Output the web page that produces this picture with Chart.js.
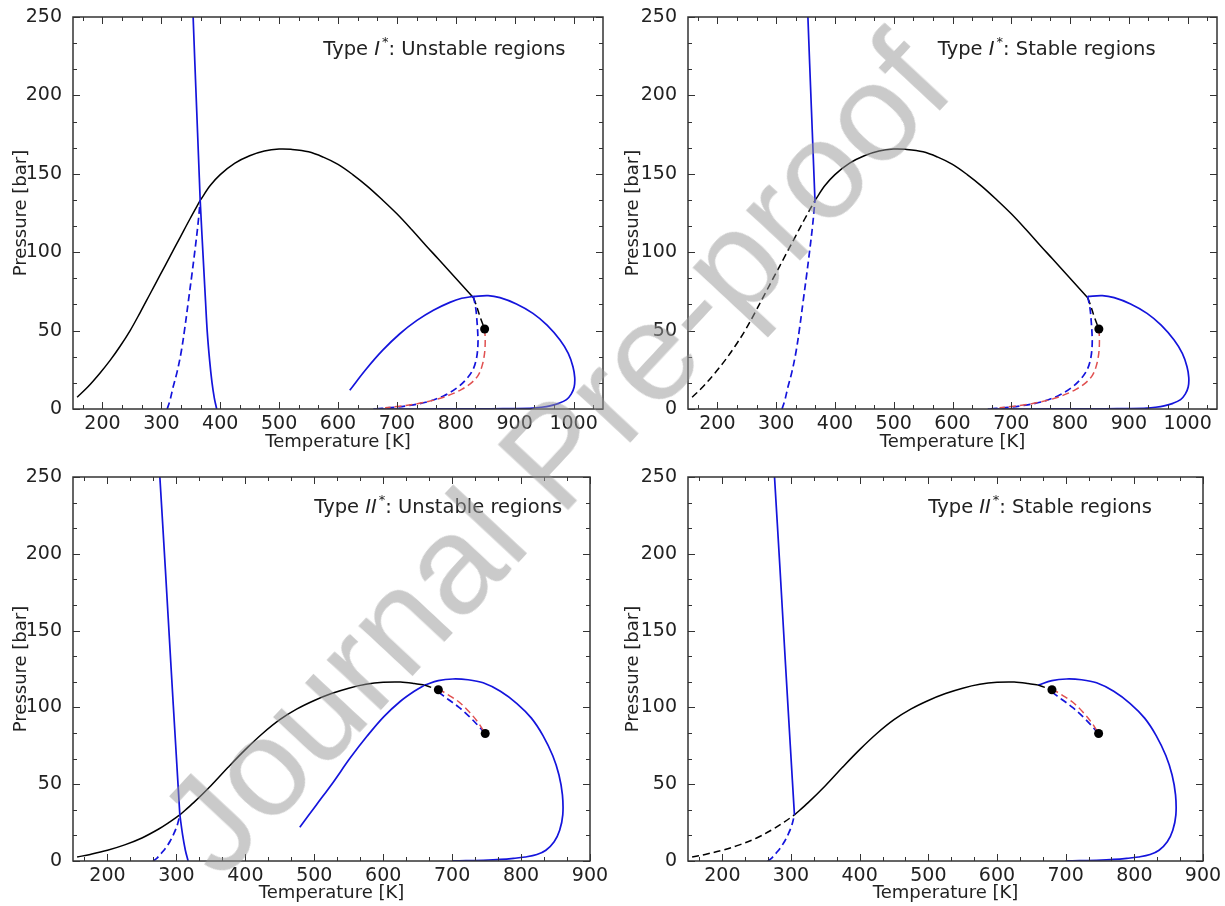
<!DOCTYPE html>
<html>
<head>
<meta charset="utf-8">
<script src="https://cdn.jsdelivr.net/npm/chart.js@4.4.1/dist/chart.umd.min.js"></script>
<style>
  body { margin: 0; background: #fff; }
  #wrap { position: relative; width: 1225px; height: 906px; overflow: hidden; }
  canvas { position: absolute; }
  #mark {
    position: absolute; left: 554px; top: 454px;
    transform: translate(-50%, -50%) rotate(-47deg);
    font: 140px "Liberation Sans", Arial, sans-serif;
    color: rgba(150, 150, 150, 0.5);
    white-space: nowrap; pointer-events: none;
  }
</style>
</head>
<body>
<div id="wrap">
  <canvas id="c1" width="612" height="453" style="left:0;top:0"></canvas>
  <canvas id="c2" width="613" height="453" style="left:612px;top:0"></canvas>
  <canvas id="c3" width="612" height="453" style="left:0;top:453px"></canvas>
  <canvas id="c4" width="613" height="453" style="left:612px;top:453px"></canvas>
  <div id="mark">Journal Pre-proof</div>
</div>
<script>
//---------------------------------------------------
// Data  [T (K), P (bar)]
//---------------------------------------------------

const xTitle = "Temperature [K]";
const yTitle = "Pressure [bar]";
const xTicksI = [200, 300, 400, 500, 600, 700, 800, 900, 1000];
const xTicksII = [200, 300, 400, 500, 600, 700, 800, 900];
const yTicks = [0, 50, 100, 150, 200, 250];

// Type I*
const envI_low = [[157,7.5],[175,14],[196,23],[213,31],[230,40],[247,50],[264,61.5],[281,73.5],[298,85.5],[315,97.5],[332,109.5],[349,121.5],[366,133]];
const envI_high = [[366,133],[383,142.5],[400,149.5],[425,156.8],[450,161.5],[475,164.5],[500,165.8],[520,165.6],[550,164],[575,160.6],[600,156],[625,149.5],[650,142],[675,133.5],[700,124.5],[725,114.5],[750,104],[770,95.8],[790,87.5],[810,79.2],[830,71]];
const envI_meta = [[830,71],[835,66],[841,59],[849,51]];
const steepI_upper = [[354,250],[357,220],[360,191],[363,162],[366,133]];
const steepI_lower = [[366,133],[369,111],[372,90],[375,69],[378,49],[382,31],[386,17],[390,7],[394,0]];
const blueDashI_left = [[310,0],[315,6],[320,14],[327,24],[334,37],[340,52],[346,69],[352,86],[357,101],[362,117],[366,133]];
const loopI_left = [[620,12],[648,25.5],[676,37.5],[705,48],[734,56.5],[762,63],[790,68],[810,70.6],[830,71.8]];
const loopI_right = [[830,71.8],[855,72.3],[875,71],[903,67],[931,61],[955,53.5],[977,44],[991,35.5],[999,27],[1002,20],[1001,14],[996,9.5],[988,6],[975,3.6],[960,2],[945,1.1],[931,0.6],[900,0.3],[860,0.15],[800,0.05],[730,0],[660,0]];
const blueDashI_right = [[830,71.8],[834,64],[836,56],[837.5,47],[837.5,40],[835,32],[829,25],[818,19],[802,13.5],[780,8.5],[751,4.5],[720,2.2],[690,0.9],[659,0]];
const redDashI = [[849,51],[850,44],[849,36],[845,28],[838,21.5],[826,16.5],[810,12.5],[795,9.8],[778,7.3],[761,5.5],[735,3.4],[705,1.8],[680,0.8]];
const critI = [[849,51]];

// Type II*
const envII_low = [[156,2.6],[175,4.3],[200,7],[225,10.5],[250,15],[275,21],[290,25.3],[305,30]];
const envII_high = [[305,30],[325,38],[350,49],[375,61],[400,72.5],[425,83],[450,92],[475,99],[500,104.5],[525,109],[550,112.5],[575,115],[600,116.3],[625,116.5],[645,115.6],[660,114.5]];
const envII_meta = [[660,114.5],[670,113],[680,111.5]];
const steepII_upper = [[276,250],[284,190],[292,128],[299,75],[305,30]];
const steepII_lower = [[305,30],[309,17],[313,7],[317,0]];
const blueDashII_left = [[266,0],[271,1.5],[276,4],[281,6.5],[286,9.5],[291,13],[296,17.5],[301,23],[305,30]];
const loopII_left = [[479,22],[503,36.5],[527,51],[552,67],[577,81.5],[601,94],[625,104],[645,110.5],[660,114.5]];
const loopII_right = [[660,114.5],[680,117.4],[701,118.5],[723,118],[745,116],[770,110.5],[794,102.5],[815,93],[832,81.5],[846,68.5],[855,56],[860,43],[860.5,30],[856,20],[848,12.5],[836,7],[823,4.2],[806,2.6],[789,1.7],[770,1],[745,0.5],[720,0.2],[700,0.1]];
const redDashII = [[680,112],[695,108],[710,103.5],[725,97],[738,90],[748,83]];
const blueDashII_mid = [[680,110],[695,105],[710,100],[725,94],[738,88],[748,83]];
const critII = [[680,111.5],[748,83]];

// panel labels
const noteI_unstable = [{ text: "Type " }, { text: "I", italic: true }, { text: "*", sup: true }, { text: ": Unstable regions" }];
const noteI_stable = [{ text: "Type " }, { text: "I", italic: true }, { text: "*", sup: true }, { text: ": Stable regions" }];
const noteII_unstable = [{ text: "Type " }, { text: "II", italic: true }, { text: "*", sup: true }, { text: ": Unstable regions" }];
const noteII_stable = [{ text: "Type " }, { text: "II", italic: true }, { text: "*", sup: true }, { text: ": Stable regions" }];

//---------------------------------------------------
// Helpers
//---------------------------------------------------

const BLACK = "#000000";
const BLUE = "#1414dc";
const RED = "#e05050";
const TICK_FONT = { family: "DejaVu Sans", size: 19 };
const TITLE_FONT = { family: "DejaVu Sans", size: 18 };

function curve(pts, color, dashed) {
  return {
    data: pts.map(([x, y]) => ({ x, y })),
    borderColor: color,
    borderWidth: color === BLUE ? 1.7 : 1.5,
    borderDash: dashed ? [7, 4] : [],
    pointRadius: 0,
    showLine: true,
    tension: 0.35,
    fill: false,
  };
}

function dots(pts) {
  return {
    data: pts.map(([x, y]) => ({ x, y })),
    pointRadius: 4.5,
    pointBackgroundColor: BLACK,
    pointBorderWidth: 0,
    showLine: false,
  };
}

// frame + inward ticks on all four sides (major and 2 minors between)
const frameTicks = {
  id: "frameTicks",
  afterDatasetsDraw(chart) {
    const { ctx, chartArea: a, scales } = chart;
    ctx.save();
    ctx.strokeStyle = "#333";
    ctx.lineWidth = 1;

    const mark = (scale, horiz) => {
      const vals = scale.ticks.map((t) => t.value);
      const minor = (vals[1] - vals[0]) / 3;
      let v0 = vals[0];
      while (v0 - minor >= scale.min - 1e-6) v0 -= minor;
      for (let i = 0; ; i++) {
        const v = v0 + i * minor;
        if (v > scale.max + 1e-6) break;
        const isMajor = vals.some((m) => Math.abs(m - v) < 1e-3);
        const len = isMajor ? 7 : 4;
        const p = Math.round(scale.getPixelForValue(v)) + 0.5;
        ctx.beginPath();
        if (horiz) {
          ctx.moveTo(p, a.bottom); ctx.lineTo(p, a.bottom - len);
          ctx.moveTo(p, a.top); ctx.lineTo(p, a.top + len);
        } else {
          ctx.moveTo(a.left, p); ctx.lineTo(a.left + len, p);
          ctx.moveTo(a.right, p); ctx.lineTo(a.right - len, p);
        }
        ctx.stroke();
      }
    };
    mark(scales.x, true);
    mark(scales.y, false);

    ctx.lineWidth = 1.5;
    ctx.strokeRect(a.left, a.top, a.width, a.height);
    ctx.restore();
  },
};

const notePlugin = {
  id: "note",
  afterDraw(chart, args, opts) {
    if (!opts.parts) return;
    const { ctx, scales: { x, y } } = chart;
    let px = x.getPixelForValue(opts.x);
    const py = y.getPixelForValue(opts.y);
    ctx.save();
    ctx.fillStyle = "#222";
    ctx.textBaseline = "middle";
    ctx.textAlign = "left";
    opts.parts.forEach((p) => {
      const size = p.sup ? 13 : 19.5;
      ctx.font = (p.italic ? "italic " : "") + size + 'px "DejaVu Sans"';
      if (p.sup) px += 2;
      ctx.fillText(p.text, px, py + (p.sup ? -7 : 0));
      px += ctx.measureText(p.text).width;
    });
    ctx.restore();
  },
};

function makeChart(id, datasets, xmax, xTicks, box, note) {
  return new Chart(document.getElementById(id), {
    type: "scatter",
    data: { datasets },
    options: {
      responsive: false,
      animation: false,
      events: [],
      layout: { padding: { top: box.top, right: box.right, left: 0, bottom: 0 } },
      plugins: { legend: { display: false }, tooltip: { enabled: false }, note },
      scales: {
        x: {
          type: "linear", min: 150, max: xmax,
          grid: { display: false }, border: { display: false },
          afterBuildTicks(s) { s.ticks = xTicks.map((v) => ({ value: v })); },
          afterFit(s) { s.height = box.xh; },
          ticks: { autoSkip: false, maxRotation: 0, padding: -4, color: "#222", font: TICK_FONT, callback: (v) => String(v) },
          title: { display: true, text: xTitle, color: "#222", font: TITLE_FONT, padding: { top: 0, bottom: box.tb } },
        },
        y: {
          type: "linear", min: 0, max: 250,
          grid: { display: false }, border: { display: false },
          afterBuildTicks(s) { s.ticks = yTicks.map((v) => ({ value: v })); },
          afterFit(s) { s.width = box.yw; },
          ticks: { padding: 3, color: "#222", font: TICK_FONT, callback: (v) => String(v) },
          title: { display: true, text: yTitle, color: "#222", font: TITLE_FONT, padding: { top: 11, bottom: 0 } },
        },
      },
    },
    plugins: [frameTicks, notePlugin],
  });
}

//---------------------------------------------------
// Panels
//---------------------------------------------------

makeChart("c1", [
  dots(critI),
  curve(redDashI, RED, true),
  curve(blueDashI_right, BLUE, true),
  curve(envI_meta, BLACK, true),
  curve(loopI_left, BLUE, false),
  curve(loopI_right, BLUE, false),
  curve(blueDashI_left, BLUE, true),
  curve(steepI_upper, BLUE, false),
  curve(steepI_lower, BLUE, false),
  curve(envI_low, BLACK, false),
  curve(envI_high, BLACK, false),
], 1050, xTicksI, { top: 17, right: 9, xh: 44, yw: 73, tb: 0 }, { x: 575, y: 229, parts: noteI_unstable });

makeChart("c2", [
  dots(critI),
  curve(redDashI, RED, true),
  curve(blueDashI_right, BLUE, true),
  curve(envI_meta, BLACK, true),
  curve(loopI_right, BLUE, false),
  curve(blueDashI_left, BLUE, true),
  curve(steepI_upper, BLUE, false),
  curve(envI_low, BLACK, true),
  curve(envI_high, BLACK, false),
], 1050, xTicksI, { top: 17, right: 8, xh: 44, yw: 76, tb: 0 }, { x: 575, y: 229, parts: noteI_stable });

makeChart("c3", [
  dots(critII),
  curve(redDashII, RED, true),
  curve(blueDashII_mid, BLUE, true),
  curve(envII_meta, BLACK, true),
  curve(loopII_left, BLUE, false),
  curve(loopII_right, BLUE, false),
  curve(blueDashII_left, BLUE, true),
  curve(steepII_upper, BLUE, false),
  curve(steepII_lower, BLUE, false),
  curve(envII_low, BLACK, false),
  curve(envII_high, BLACK, false),
], 900, xTicksII, { top: 24, right: 22, xh: 45, yw: 73, tb: 2 }, { x: 500, y: 230, parts: noteII_unstable });

makeChart("c4", [
  dots(critII),
  curve(redDashII, RED, true),
  curve(blueDashII_mid, BLUE, true),
  curve(envII_meta, BLACK, true),
  curve(loopII_right, BLUE, false),
  curve(blueDashII_left, BLUE, true),
  curve(steepII_upper, BLUE, false),
  curve(envII_low, BLACK, true),
  curve(envII_high, BLACK, false),
], 900, xTicksII, { top: 24, right: 22, xh: 45, yw: 76, tb: 2 }, { x: 500, y: 230, parts: noteII_stable });
</script>
</body>
</html>
